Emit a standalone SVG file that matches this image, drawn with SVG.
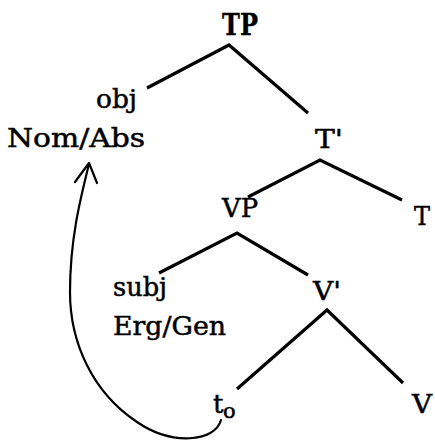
<svg xmlns="http://www.w3.org/2000/svg" width="435" height="443" viewBox="0 0 435 443">
<style>
  text { font-family: "DejaVu Serif", "Liberation Serif", serif; font-size: 26px; fill: #000; stroke: #000; stroke-width: 0.5; }
  .b { font-weight: bold; font-size: 30px; stroke-width: 0.3; }
  .sub { font-size: 21px; }
  .edge { stroke: #000; stroke-width: 3.2; fill: none; stroke-linecap: butt; }
  .mv { stroke: #000; stroke-width: 2.2; fill: none; stroke-linecap: round; stroke-linejoin: round; }
</style>
<rect width="435" height="443" fill="#fff"/>
<g id="connectors">
  <path class="edge" d="M147,88 L229,45 L308,113"/>
  <path class="edge" d="M248,197 L320,160 L402,200"/>
  <path class="edge" d="M159,273 L237,233 L308,275"/>
  <path class="edge" d="M237,389 L327,310 L403,383"/>
  <path class="mv" d="M221,420 C215,442 172,446 137,422 C92,392 70,342 70,292 C70,240 80,200 89,164"/>
  <path class="mv" d="M75,182 L89,163 L97,183"/>
</g>
<g id="TP"><text class="b" x="222" y="35" textLength="36" lengthAdjust="spacingAndGlyphs">TP</text></g>
<g id="obj"><text x="96" y="108" textLength="41" lengthAdjust="spacingAndGlyphs">obj</text>
<text x="7" y="147" textLength="138" lengthAdjust="spacingAndGlyphs">Nom/Abs</text></g>
<g id="Tbar"><text x="315" y="148" textLength="28" lengthAdjust="spacingAndGlyphs">T'</text></g>
<g id="VP"><text x="222" y="217" textLength="36" lengthAdjust="spacingAndGlyphs">VP</text></g>
<g id="T"><text x="414" y="225" textLength="16" lengthAdjust="spacingAndGlyphs">T</text></g>
<g id="subj"><text x="113" y="296" textLength="54" lengthAdjust="spacingAndGlyphs">subj</text>
<text x="113" y="335" textLength="113" lengthAdjust="spacingAndGlyphs">Erg/Gen</text></g>
<g id="Vbar"><text x="313" y="300" textLength="28" lengthAdjust="spacingAndGlyphs">V'</text></g>
<g id="trace"><text x="213" y="413">t<tspan class="sub" x="223" y="418">o</tspan></text></g>
<g id="V"><text x="412" y="413" textLength="20" lengthAdjust="spacingAndGlyphs">V</text></g>
</svg>
